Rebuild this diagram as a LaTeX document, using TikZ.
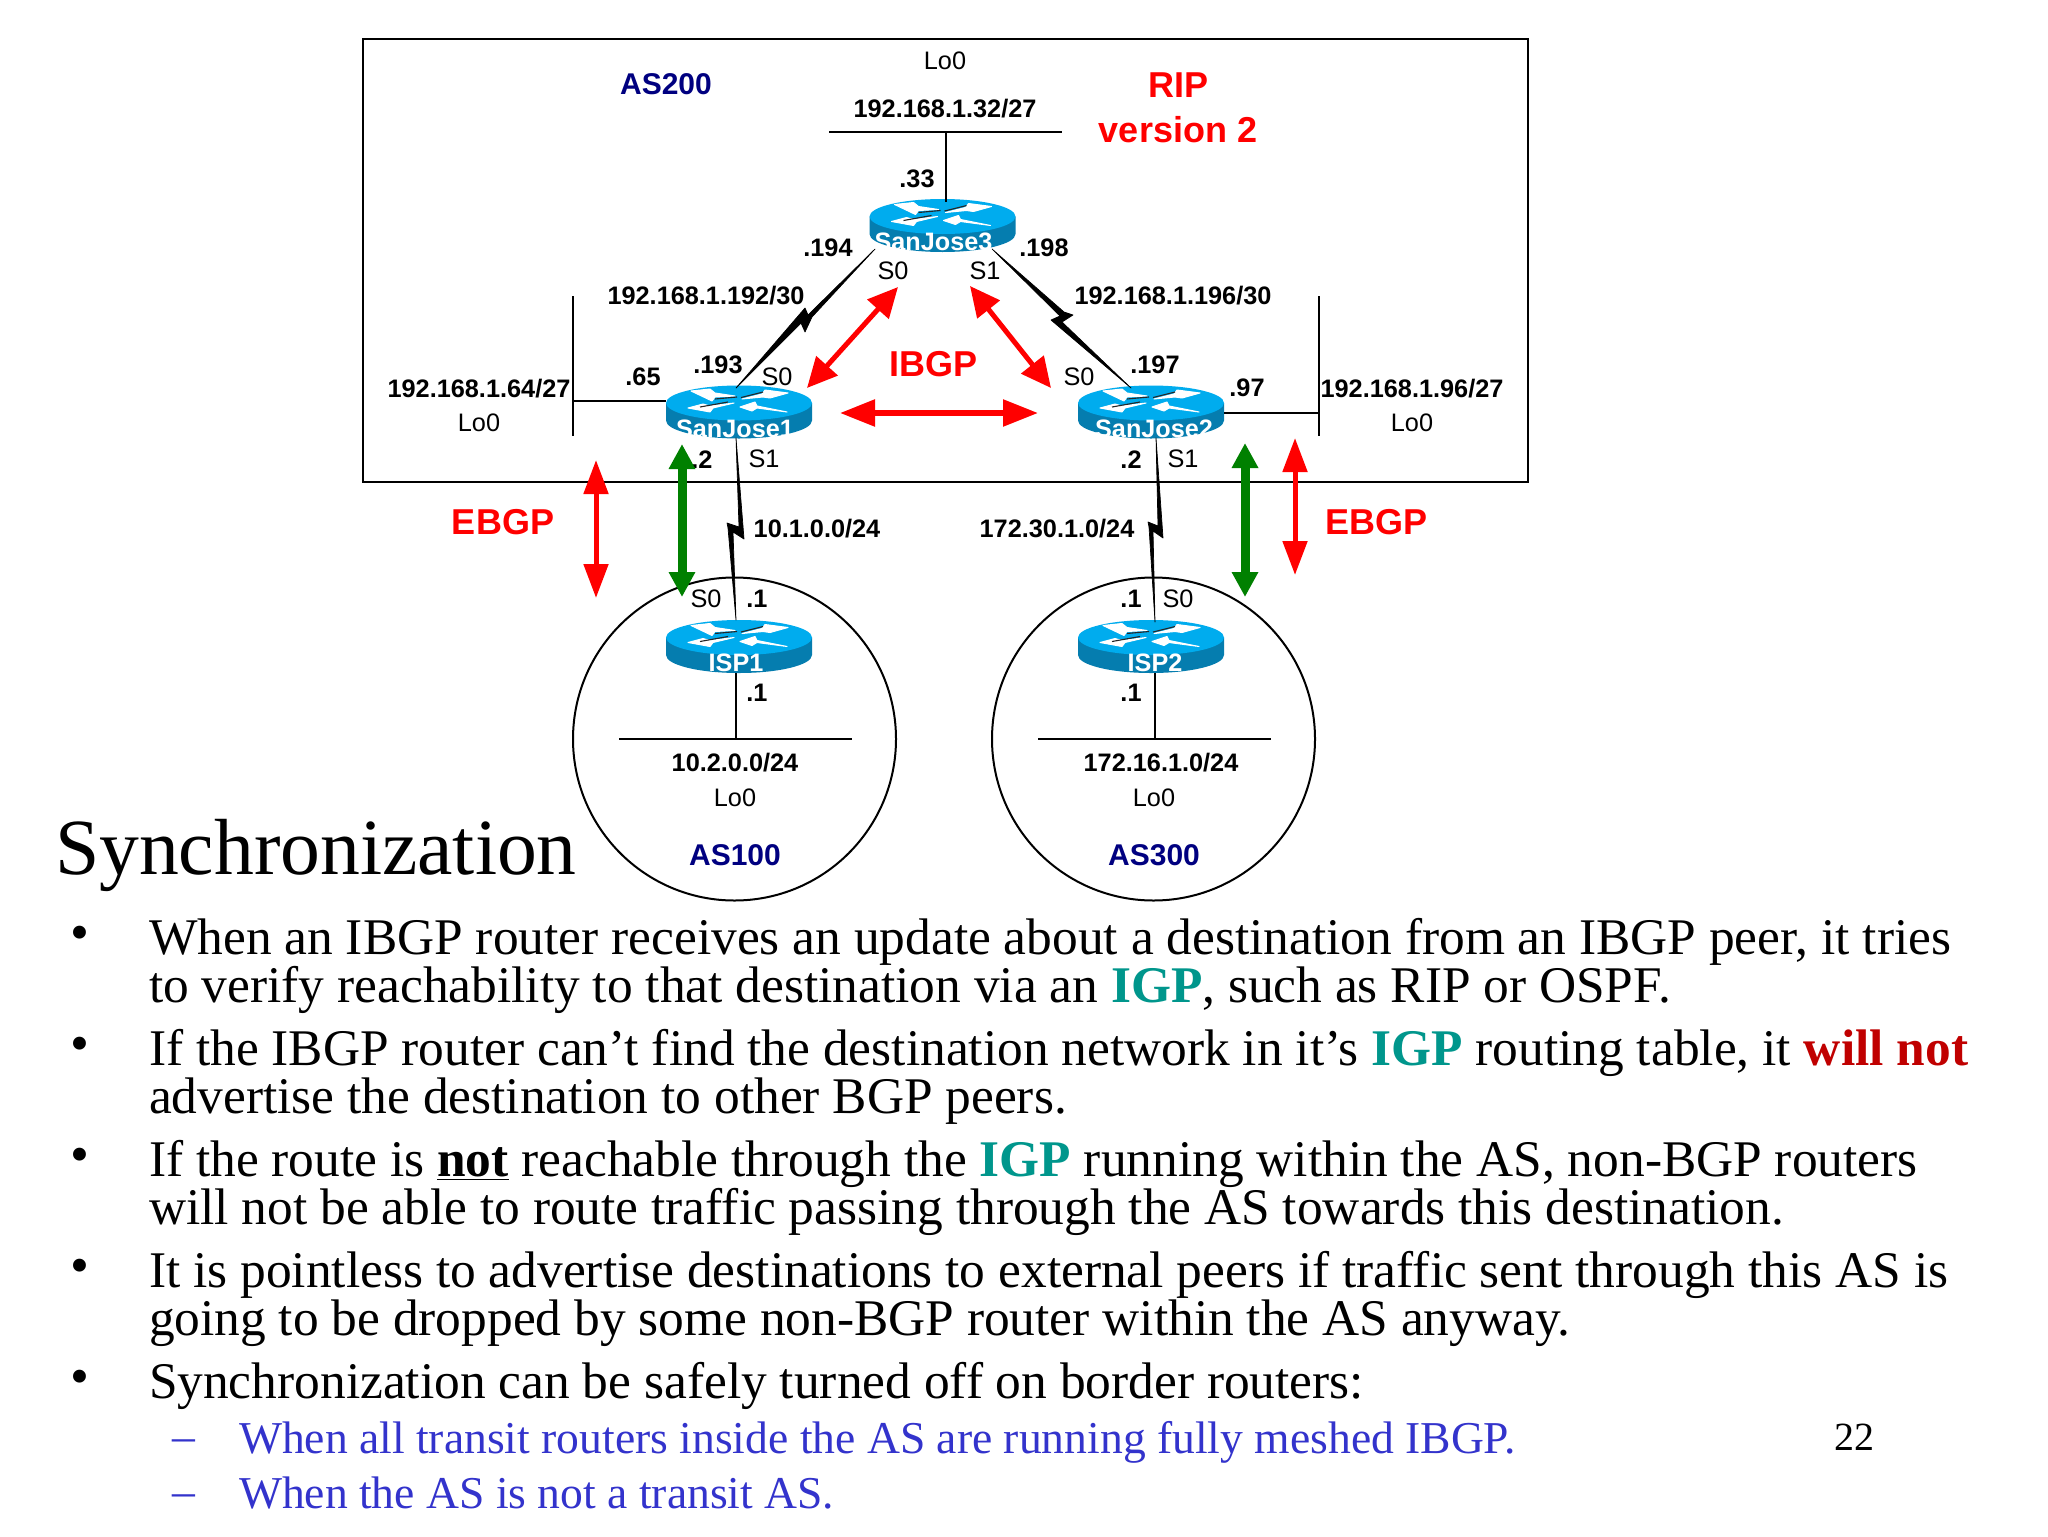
\documentclass[tikz,border=0pt]{standalone}
\usepackage{fontspec}
\setmainfont{Liberation Serif}
\newfontfamily\arialf{Liberation Sans}
\usetikzlibrary{arrows.meta,calc}
\definecolor{rtop}{RGB}{0,172,238}
\definecolor{rside}{RGB}{5,125,175}
\definecolor{navyas}{RGB}{0,0,128}
\definecolor{igp}{RGB}{0,150,140}
\definecolor{wn}{RGB}{192,0,0}
\definecolor{subb}{RGB}{51,51,204}
\definecolor{gr}{RGB}{0,128,0}
\tikzset{
 x=0.5pt,y=-0.5pt,
 every node/.style={inner sep=0pt,outer sep=0pt},
 bl/.style={font=\arialf\bfseries\fontsize{12.65}{14}\selectfont,anchor=center,yshift=-0.6pt},
 rg/.style={font=\arialf\fontsize{12.65}{14}\selectfont,anchor=center,yshift=-0.6pt},
 asl/.style={font=\arialf\bfseries\fontsize{15}{17}\selectfont,text=navyas,anchor=center,yshift=-0.3pt},
 rl/.style={font=\arialf\bfseries\fontsize{18}{20}\selectfont,text=red,anchor=center,yshift=-0.3pt},
 bodyl/.style={font=\fontsize{25.7}{28}\selectfont,anchor=base west,yshift=0.4pt},
 subl/.style={font=\fontsize{22.8}{25}\selectfont,text=subb,anchor=base west,yshift=-0.7pt},
 bul/.style={font=\fontsize{27}{28}\selectfont,anchor=base,yshift=2.2pt},
 wire/.style={draw=black,line width=1pt},
 bolt/.style={fill=black,draw=black,line width=0.35pt,line join=round},
 ibgp/.style={draw=red,line width=2.8pt,{Triangle[length=17.5pt,width=13pt]}-{Triangle[length=17.5pt,width=13pt]}},
 ibgpd/.style={draw=red,line width=2.5pt,{Triangle[length=15pt,width=14pt]}-{Triangle[length=15pt,width=14pt]}},
 ebgp/.style={draw=red,line width=2.5pt,{Triangle[length=17pt,width=12pt]}-{Triangle[length=17pt,width=12pt]}},
 gebgp/.style={draw=gr,line width=4.5pt,{Triangle[length=12.5pt,width=12.5pt]}-{Triangle[length=12.5pt,width=12.5pt]}},
 rarrow/.style={fill=white,draw=white,line width=0.5pt,line join=round},
 rshadow/.style={draw=black!85,line width=0.55pt},
 rbox/.style={minimum width=73.5pt,minimum height=26.5pt,draw=none,fill=none},
}
\newcommand{\routerat}[5]{%
 \begin{scope}[shift={(#2,#3)}]
  \fill[rside] (-73,-9) -- (-73,8.5) arc[start angle=180,end angle=0,x radius=73,y radius=18] -- (73,-9) -- cycle;
  \fill[rtop] (0,-9) ellipse [x radius=73,y radius=17.5];
  \filldraw[rarrow] (-48,-21) -- (-29,-23) -- (-24,-19) -- (-4,-16) -- (-24,-15) -- (-27,-11) -- cycle;
  \filldraw[rarrow] (49,-19) -- (26,-22) -- (23,-18) -- (3,-13) -- (24,-15) -- (31,-14) -- cycle;
  \filldraw[rarrow] (-51,-4) -- (-36,-8) -- (-29,-6) -- (-5,-9) -- (-26,-4) -- (-29,0) -- cycle;
  \filldraw[rarrow] (1,-5) -- (16,-10) -- (18,-6) -- (48,0) -- (18,-4) -- (13,-1) -- cycle;
  \draw[rshadow] (-24,-13) -- (-2,-15);
  \draw[rshadow] (2,-14.5) -- (24,-20);
  \draw[rshadow] (-39,-5) -- (-11,-10);
  \begin{scope}
   \clip (-73,-9) -- (-73,8.5) arc[start angle=180,end angle=0,x radius=73,y radius=18] -- (73,-9) -- cycle;
   \node[font=\arialf\bfseries\fontsize{12.6}{14}\selectfont,text=white,anchor=base] (#1-t) at (#5,25) {#4};
  \end{scope}
 \end{scope}
 \node[rbox] (#1) at (#2,#3) {};
}
\begin{document}
\begin{tikzpicture}
\useasboundingbox (0,0) rectangle (2048,1536);
\fill[white] (0,0) rectangle (2048,1536);
% frame and circles
\node[draw=black,line width=1pt,minimum width=582.5pt,minimum height=221.5pt] (asbox) at (945.5,260.5) {};
\node[draw=black,line width=1pt,circle,minimum size=161.5pt] (c100) at (734.5,739) {};
\node[draw=black,line width=1pt,circle,minimum size=161.5pt] (c300) at (1153.5,739) {};
% LAN ends
\coordinate (lan3a) at (829,132); \coordinate (lan3b) at (1062,132); \coordinate (lan3m) at (946,132);
\coordinate (lan1a) at (573,296); \coordinate (lan1b) at (573,436); \coordinate (lan1m) at (573,401);
\coordinate (lan2a) at (1319,296); \coordinate (lan2b) at (1319,436); \coordinate (lan2m) at (1319,413);
\coordinate (lani1a) at (619,739); \coordinate (lani1b) at (852,739); \coordinate (lani1m) at (736,739);
\coordinate (lani2a) at (1038,739); \coordinate (lani2b) at (1271,739); \coordinate (lani2m) at (1155,739);
\draw[wire] (lan3a) -- (lan3b);
\draw[wire] (lan1a) -- (lan1b);
\draw[wire] (lan2a) -- (lan2b);
\draw[wire] (lani1a) -- (lani1b);
\draw[wire] (lani2a) -- (lani2b);
\routerat{sj3}{942.5}{225.5}{SanJose3}{-9}
\routerat{sj1}{739}{412}{SanJose1}{-4}
\routerat{sj2}{1151}{412}{SanJose2}{3}
\routerat{isp1}{739}{646.5}{ISP1}{-3}
\routerat{isp2}{1151}{646.5}{ISP2}{4}
\draw[wire] (lan3m) -- (946,202);
\draw[wire] (lan1m) -- (666,401);
\draw[wire] (lan2m) -- (1224,413);
\draw[wire] (736,673) -- (lani1m);
\draw[wire] (1155,673) -- (lani2m);
% serial bolts
\coordinate (a3) at (875,249); \coordinate (a1) at (736,388);
\filldraw[bolt] (a1) -- (805,308) -- (808,315) -- (a3) -- (812,317) -- (805,332) -- (801,323) -- cycle;
\coordinate (b3) at (992,249); \coordinate (b2) at (1131,388);
\filldraw[bolt] (b3) -- (1064,312) -- (1073,315) -- (1062,322) -- (b2) -- (1051,320) -- (1060,316) -- cycle;
\coordinate (c1) at (736,438); \coordinate (ci) at (736,620);
\filldraw[bolt] (c1) -- (744,539) -- (733,532) -- (ci) -- (728,528) -- (727,523) -- (739,527) -- cycle;
\coordinate (d2) at (1156,438); \coordinate (di) at (1155,622);
\filldraw[bolt] (d2) -- (1163,538) -- (1153,531) -- (di) -- (1149,527) -- (1148,522) -- (1158,526) -- cycle;
% labels
\node[rg] (l1) at (945,60) {Lo0};
\node[bl] (l2) at (945,107) {192.168.1.32/27};
\node[asl] (l3) at (666,84) {AS200};
\node[rl] (l4) at (1178,85) {RIP};
\node[rl] (l5) at (1178,129) {version 2};
\node[bl] (l6) at (917,178) {.33};
\node[bl] (l7) at (828,247) {.194};
\node[bl] (l8) at (1044,247) {.198};
\node[rg] (l9) at (893,270) {S0};
\node[rg] (l10) at (985,270) {S1};
\node[bl] (l11) at (706,294) {192.168.1.192/30};
\node[bl] (l12) at (1173,294) {192.168.1.196/30};
\node[bl] (l13) at (718,364) {.193};
\node[bl] (l14) at (1155,364) {.197};
\node[rg] (l15) at (777,376) {S0};
\node[rg] (l16) at (1079,376) {S0};
\node[bl] (l17) at (643,376) {.65};
\node[bl] (l18) at (1247,387) {.97};
\node[bl] (l19) at (479,387) {192.168.1.64/27};
\node[bl] (l20) at (1412,387) {192.168.1.96/27};
\node[rg] (l21) at (479,422) {Lo0};
\node[rg] (l22) at (1412,422) {Lo0};
\node[rl] (l23) at (933,364) {IBGP};
\node[bl] (l24) at (702,458) {.2};
\node[rg] (l25) at (764,458) {S1};
\node[bl] (l26) at (1131,458) {.2};
\node[rg] (l27) at (1183,458) {S1};
\node[rl] (l28) at (503,522) {EBGP};
\node[rl] (l29) at (1376,522) {EBGP};
\node[bl] (l30) at (817,527) {10.1.0.0/24};
\node[bl] (l31) at (1057,527) {172.30.1.0/24};
\node[rg] (l32) at (706,598) {S0};
\node[bl] (l33) at (757,598) {.1};
\node[bl] (l34) at (1131,598) {.1};
\node[rg] (l35) at (1178,598) {S0};
\node[bl] (l36) at (757,692) {.1};
\node[bl] (l37) at (1131,692) {.1};
\node[bl] (l38) at (735,761) {10.2.0.0/24};
\node[bl] (l39) at (1161,761) {172.16.1.0/24};
\node[rg] (l40) at (735,797) {Lo0};
\node[rg] (l41) at (1154,797) {Lo0};
\node[asl] (l42) at (735,855) {AS100};
\node[asl] (l43) at (1154,855) {AS300};
% BGP arrows
\coordinate (i1) at (840,413); \coordinate (i2) at (1038,413);
\draw[ibgp] (i1) -- (i2);
\coordinate (i3) at (807,388); \coordinate (i4) at (898,287);
\draw[ibgpd] (i3) -- (i4);
\coordinate (i5) at (970,286); \coordinate (i6) at (1051,388);
\draw[ibgpd] (i5) -- (i6);
\coordinate (e1) at (596,460); \coordinate (e2) at (596,598);
\draw[ebgp] (e1) -- (e2);
\coordinate (e3) at (1295,438); \coordinate (e4) at (1295,575);
\draw[ebgp] (e3) -- (e4);
\coordinate (g1) at (682,444); \coordinate (g2) at (682,597);
\draw[gebgp] (g1) -- (g2);
\coordinate (g3) at (1245,443); \coordinate (g4) at (1245,597);
\draw[gebgp] (g3) -- (g4);
% slide text
\node[font=\fontsize{39.8}{42}\selectfont,anchor=base west] (title) at (55,874) {Synchronization};
\node[bul] (b1) at (80,955) {•};
\node[bul] (b2) at (80,1066) {•};
\node[bul] (b3) at (80,1177) {•};
\node[bul] (b4) at (80,1288) {•};
\node[bul] (b5) at (80,1399) {•};
\node[bodyl] (t1) at (149,955) {When an IBGP router receives an update about a destination from an IBGP peer, it tries};
\node[bodyl] (t2) at (149,1003) {to verify reachability to that destination via an \textbf{\textcolor{igp}{IGP}}, such as RIP or OSPF.};
\node[bodyl] (t3) at (149,1066) {If the IBGP router can’t find the destination network in it’s \textbf{\textcolor{igp}{IGP}} routing table, it \textbf{\textcolor{wn}{will not}}};
\node[bodyl] (t4) at (149,1114) {advertise the destination to other BGP peers.};
\node[bodyl] (t5) at (149,1177) {If the route is \underline{\textbf{not}} reachable through the \textbf{\textcolor{igp}{IGP}} running within the AS, non-BGP routers};
\node[bodyl] (t6) at (149,1225) {will not be able to route traffic passing through the AS towards this destination.};
\node[bodyl] (t7) at (149,1288) {It is pointless to advertise destinations to external peers if traffic sent through this AS is};
\node[bodyl] (t8) at (149,1336) {going to be dropped by some non-BGP router within the AS anyway.};
\node[bodyl] (t9) at (149,1399) {Synchronization can be safely turned off on border routers:};
\node[subl] (d1) at (172,1450) {–};
\node[subl] (d2) at (172,1505) {–};
\node[subl] (s1) at (239,1452) {When all transit routers inside the AS are running fully meshed IBGP.};
\node[subl] (s2) at (239,1507) {When the AS is not a transit AS.};
\node[font=\fontsize{20}{22}\selectfont,anchor=base west] (pg) at (1834,1450) {22};
\end{tikzpicture}
\end{document}
